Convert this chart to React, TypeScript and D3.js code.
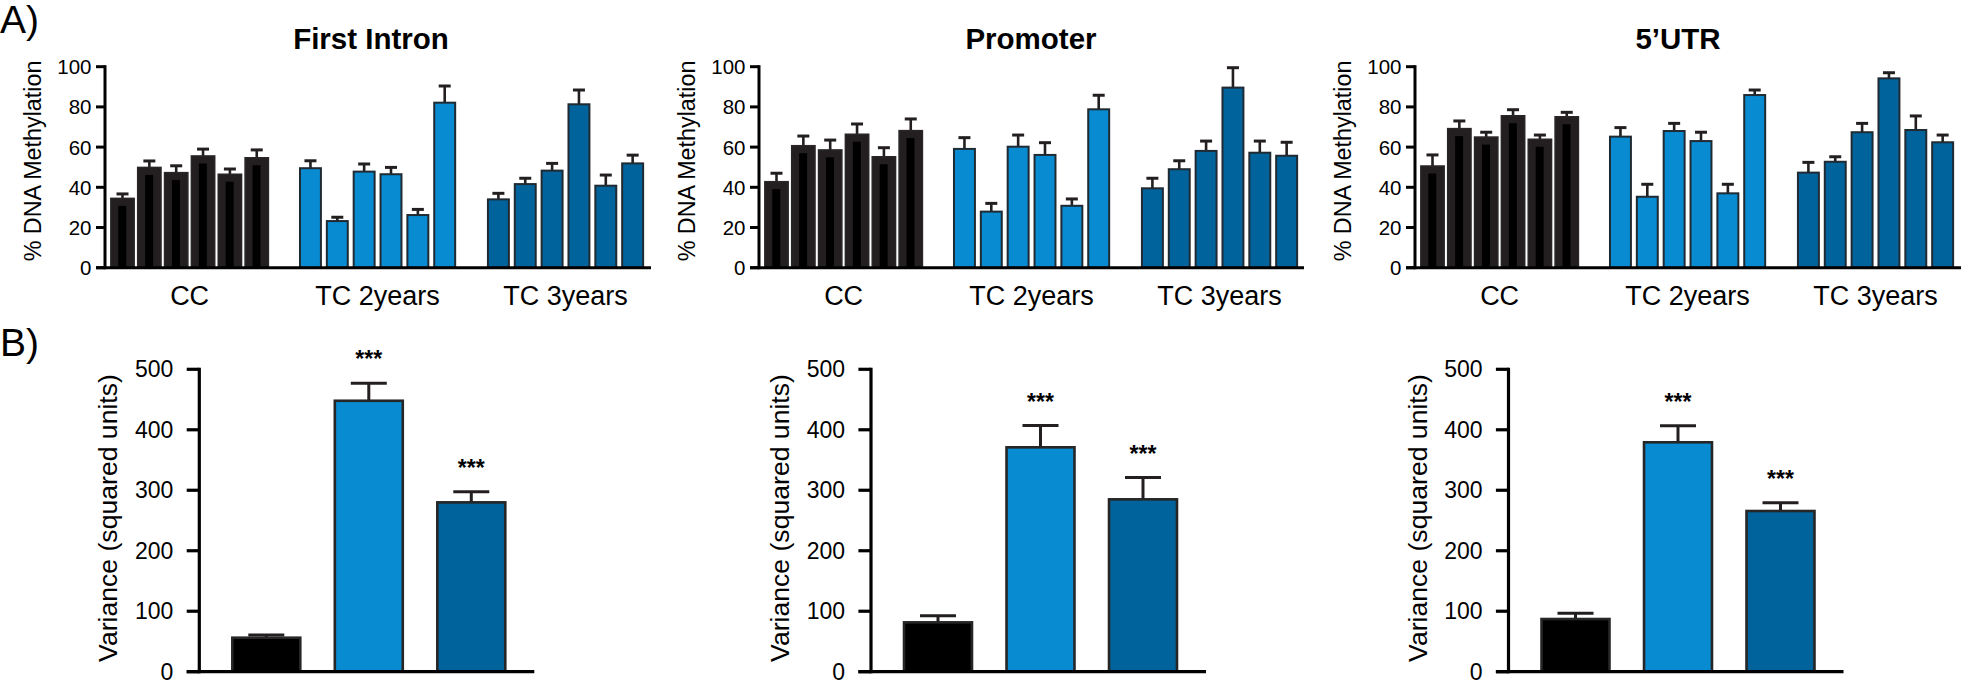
import React from 'react';
import * as d3 from 'd3';

// ---------- DATA ----------
const groups = ['CC', 'TC 2years', 'TC 3years'];
const topTicks = [0, 20, 40, 60, 80, 100];
const bottomTicks = [0, 100, 200, 300, 400, 500];
const titles = ['First Intron', 'Promoter', '5\u2019UTR'];

// First Intron (% DNA methylation, mean and upper SEM)
const intronCC = [34.5, 49.9, 47.3, 55.6, 46.5, 54.7];
const intronCCErr = [2.2, 3.2, 3.4, 3.4, 2.6, 3.9];
const intronTC2 = [49.5, 23.2, 47.8, 46.5, 26.2, 82.1];
const intronTC2Err = [3.7, 1.9, 3.8, 3.4, 2.8, 8.3];
const intronTC3 = [34.0, 41.6, 48.3, 81.3, 40.8, 51.9];
const intronTC3Err = [3.0, 2.9, 3.6, 7.1, 5.3, 4.1];

// Promoter
const promoterCC = [42.8, 60.7, 58.6, 66.4, 55.2, 68.2];
const promoterCCErr = [4.2, 4.8, 4.9, 5.1, 4.5, 5.8];
const promoterTC2 = [59.1, 27.9, 60.2, 56.1, 30.8, 78.8];
const promoterTC2Err = [5.6, 4.1, 5.8, 6.1, 3.4, 7.0];
const promoterTC3 = [39.5, 49.0, 58.1, 89.6, 57.2, 55.7];
const promoterTC3Err = [5.0, 4.2, 4.9, 9.9, 5.8, 6.7];

// 5'UTR
const utrCC = [50.6, 69.2, 65.0, 75.6, 63.9, 75.1];
const utrCCErr = [5.5, 3.8, 2.4, 3.0, 2.1, 2.2];
const utrTC2 = [65.2, 35.3, 68.0, 63.0, 37.0, 85.9];
const utrTC2Err = [4.5, 6.2, 3.8, 4.4, 4.5, 2.5];
const utrTC3 = [47.3, 52.7, 67.4, 94.2, 68.5, 62.4];
const utrTC3Err = [5.1, 2.5, 4.4, 2.8, 7.0, 3.6];

// Variance (squared units), per group: CC, TC 2years, TC 3years
const intronVar = [56.2, 448, 280];
const intronVarErr = [4.5, 28.9, 17.6];
const promoterVar = [81.6, 371, 285];
const promoterVarErr = [11, 36, 36];
const utrVar = [87.1, 379.3, 265.7];
const utrVarErr = [9.4, 27.5, 13.7];
const varSignif = ['', '***', '***'];

// ---------- STYLE ----------
const FONT = 'Liberation Sans, Arial, Helvetica, sans-serif';
const COLORS = ['#231f20', '#088bd0', '#00639b'];
const BOTTOM_COLORS = ['#000000', '#088bd0', '#00639b'];
const INK = '#231f20';

const yTop = d3.scaleLinear().domain([0, 100]).range([267.7, 66.7]);
const yBottom = d3.scaleLinear().domain([0, 500]).range([671.7, 369.3]);

const PITCH = 26.85;

type TopProps = {
  title: string;
  titleX: number;
  axisX: number;
  axisEnd: number;
  series: number[][];
  errors: number[][];
};

function TopChart({ title, titleX, axisX, axisEnd, series, errors }: TopProps) {
  const slot0 = axisX + 17.5;
  const x = d3
    .scaleBand<number>()
    .domain(d3.range(20))
    .range([slot0 - PITCH / 2, slot0 + 19.5 * PITCH])
    .paddingInner(0.22)
    .paddingOuter(0.11);
  const bw = x.bandwidth();
  const y0 = yTop(0);
  const bars: React.ReactNode[] = [];
  series.forEach((vals, g) => {
    vals.forEach((v, i) => {
      const slot = g * 7 + i;
      const extra = g === 0 ? 1.2 : 0;
      const bx = (x(slot) as number) - extra;
      const w = bw + extra * 2;
      const top = yTop(v);
      const errTop = yTop(v + errors[g][i]);
      const cx = bx + w / 2;
      bars.push(
        <g key={`b${g}-${i}`}>
          <line x1={cx} x2={cx} y1={top} y2={errTop} stroke={INK} strokeWidth={2.6} />
          <line x1={cx - 6} x2={cx + 6} y1={errTop} y2={errTop} stroke={INK} strokeWidth={3} />
          <rect
            x={bx}
            y={top}
            width={w}
            height={y0 - top}
            fill={COLORS[g]}
            stroke={g === 0 ? '#2a2627' : '#1f2a33'}
            strokeWidth={g === 0 ? 1.5 : 2}
          />
          {g === 0 && (
            <rect x={bx + w * 0.32} y={top + 7.5} width={w * 0.34} height={Math.max(0, y0 - top - 7.5)} fill="#000" />
          )}
        </g>
      );
    });
  });
  const groupCenter = (g: number) => ((x(g * 7) as number) + (x(g * 7 + 5) as number) + bw) / 2;
  return (
    <g>
      <text x={titleX} y={49} textAnchor="middle" fontFamily={FONT} fontWeight="bold" fontSize={29.5} fill="#000">
        {title}
      </text>
      {bars}
      <line x1={axisX} x2={axisX} y1={yTop(100) - 1.5} y2={y0 + 1.5} stroke="#000" strokeWidth={3} />
      <line x1={axisX - 9} x2={axisEnd} y1={y0} y2={y0} stroke="#000" strokeWidth={3} />
      {topTicks.map((t) => (
        <g key={t}>
          <line x1={axisX - 9} x2={axisX} y1={yTop(t)} y2={yTop(t)} stroke="#000" strokeWidth={3} />
          <text
            x={axisX - 13.5}
            y={yTop(t)}
            textAnchor="end"
            dominantBaseline="central"
            fontFamily={FONT}
            fontSize={20.5}
            fill="#000"
          >
            {t}
          </text>
        </g>
      ))}
      <text
        transform={`translate(${axisX - 64},${161}) rotate(-90)`}
        textAnchor="middle"
        fontFamily={FONT}
        fontSize={23.3}
        fill="#000"
      >
        % DNA Methylation
      </text>
      {groups.map((gname, g) => (
        <text key={gname} x={groupCenter(g)} y={305} textAnchor="middle" fontFamily={FONT} fontSize={27} fill="#000">
          {gname}
        </text>
      ))}
    </g>
  );
}

type BottomProps = { axisX: number; values: number[]; errors: number[] };

function BottomChart({ axisX, values, errors }: BottomProps) {
  const axisEnd = axisX + 335;
  const x = d3
    .scaleBand<string>()
    .domain(groups)
    .range([axisX + 15.75, axisX + 323.25])
    .paddingInner(0.337)
    .paddingOuter(0.1685);
  const bw = x.bandwidth();
  const y0 = yBottom(0);
  return (
    <g>
      {groups.map((gname, g) => {
        const bx = x(gname) as number;
        const cx = bx + bw / 2;
        const top = yBottom(values[g]);
        const errTop = yBottom(values[g] + errors[g]);
        return (
          <g key={gname}>
            <line x1={cx} x2={cx} y1={top} y2={errTop} stroke={INK} strokeWidth={3} />
            <line x1={cx - 18} x2={cx + 18} y1={errTop} y2={errTop} stroke={INK} strokeWidth={3} />
            <rect x={bx} y={top} width={bw} height={y0 - top} fill={BOTTOM_COLORS[g]} stroke="#262626" strokeWidth={2.6} />
            {varSignif[g] && (
              <text x={cx} y={errTop - 16} textAnchor="middle" fontFamily={FONT} fontWeight="bold" fontSize={23} fill="#000">
                {varSignif[g]}
              </text>
            )}
          </g>
        );
      })}
      <line x1={axisX} x2={axisX} y1={yBottom(500) - 1.5} y2={y0 + 1.5} stroke="#000" strokeWidth={3.2} />
      <line x1={axisX - 12.6} x2={axisEnd} y1={y0} y2={y0} stroke="#000" strokeWidth={3.2} />
      {bottomTicks.map((t) => (
        <g key={t}>
          <line x1={axisX - 12.6} x2={axisX} y1={yBottom(t)} y2={yBottom(t)} stroke="#000" strokeWidth={3.2} />
          <text
            x={axisX - 26}
            y={yBottom(t)}
            textAnchor="end"
            dominantBaseline="central"
            fontFamily={FONT}
            fontSize={23}
            fill="#000"
          >
            {t}
          </text>
        </g>
      ))}
      <text
        transform={`translate(${axisX - 82},${518}) rotate(-90)`}
        textAnchor="middle"
        fontFamily={FONT}
        fontSize={26.6}
        fill="#000"
      >
        Variance (squared units)
      </text>
    </g>
  );
}

export default function App() {
  return (
    <svg
      width={1961}
      height={682}
      viewBox="0 0 1961 682"
      style={{ position: 'absolute', left: 0, top: 0, background: '#fff', display: 'block' }}
    >
      <rect width={1961} height={682} fill="#fff" />
      <text x={0} y={33} fontFamily={FONT} fontSize={39} fill="#000">A)</text>
      <text x={0} y={356} fontFamily={FONT} fontSize={39} fill="#000">B)</text>

      <TopChart
        title={titles[0]}
        titleX={371}
        axisX={105}
        axisEnd={651}
        series={[intronCC, intronTC2, intronTC3]}
        errors={[intronCCErr, intronTC2Err, intronTC3Err]}
      />
      <TopChart
        title={titles[1]}
        titleX={1031}
        axisX={759}
        axisEnd={1304}
        series={[promoterCC, promoterTC2, promoterTC3]}
        errors={[promoterCCErr, promoterTC2Err, promoterTC3Err]}
      />
      <TopChart
        title={titles[2]}
        titleX={1678}
        axisX={1415}
        axisEnd={1961}
        series={[utrCC, utrTC2, utrTC3]}
        errors={[utrCCErr, utrTC2Err, utrTC3Err]}
      />

      <BottomChart axisX={199.3} values={intronVar} errors={intronVarErr} />
      <BottomChart axisX={871} values={promoterVar} errors={promoterVarErr} />
      <BottomChart axisX={1508.5} values={utrVar} errors={utrVarErr} />
    </svg>
  );
}
